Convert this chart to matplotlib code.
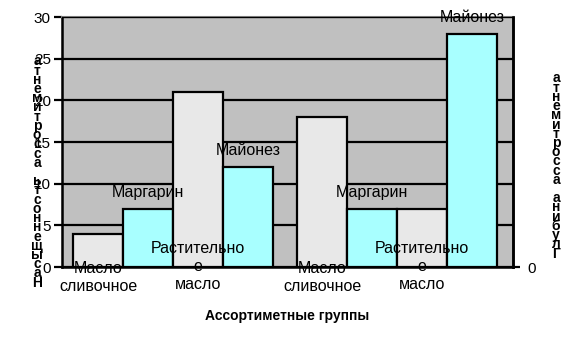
import matplotlib.pyplot as plt
import numpy as np

plt.rcParams['font.family'] = ['Liberation Sans', 'DejaVu Sans']

groups = ['Насыщенность ассортимента', 'Глубина ассортимента']
products = ['Масло\nсливочное', 'Маргарин', 'Растительно\nе\nмасло', 'Майонез']
values1 = [4, 7, 21, 12]
values2 = [18, 7, 7, 28]
colors = ['#e8e8e8', '#a8ffff', '#e8e8e8', '#a8ffff']
yticks = [0, 5, 10, 15, 20, 25, 30]

fig = plt.figure(figsize=(5.7, 3.62), dpi=100)
ax = fig.add_axes([0.1088, 0.2624, 0.7912, 0.6906])
ax.set_facecolor('#c0c0c0')

x1 = np.arange(4) + 0.72
x2 = np.arange(4) + 5.2
for xs, vals in [(x1, values1), (x2, values2)]:
    ax.bar(xs, vals, width=1.0, color=colors, edgecolor='black', linewidth=1.6, zorder=3)
    for i, (x, v) in enumerate(zip(xs, vals)):
        if i in (1, 3):
            ax.annotate(products[i], (x, v), xytext=(0, 12), textcoords='offset points',
                        ha='center', va='center', fontsize=11.5, zorder=5)
        elif i == 0:
            ax.annotate(products[i], (x, 0), xytext=(0, -7.5), textcoords='offset points',
                        ha='center', va='center', fontsize=11.5, linespacing=1.3, zorder=5)
        else:
            ax.annotate(products[i], (x, 0), xytext=(0, 0.5), textcoords='offset points',
                        ha='center', va='center', fontsize=11.5, linespacing=1.25, zorder=5)

ax.set_xlim(0, 9.02)
ax.set_ylim(0, 30)
ax.set_yticks(yticks)
ax.set_xticks([])
ax.yaxis.grid(True, color='black', linewidth=1.6, zorder=1)
ax.set_axisbelow(True)
ax.tick_params(axis='y', direction='out', length=6, width=1.6, labelsize=11, colors='black', pad=2)
for s in ['left', 'bottom', 'right']:
    ax.spines[s].set_linewidth(1.8)
    ax.spines[s].set_color('black')
ax.spines['top'].set_color('#808080')
ax.spines['top'].set_linewidth(1.5)

ax2 = ax.twinx()
ax2.set_ylim(0, 30)
ax2.set_yticks([0])
ax2.tick_params(axis='y', direction='out', length=5, width=1.6, labelsize=11, pad=5)
ax2.spines['right'].set_linewidth(1.8)

ax.set_xlabel('Ассортиметные группы', fontsize=10, fontweight='bold', labelpad=30)

# вертикальные подписи осей
fig.text(37 / 570, 1 - 172 / 362, '\n'.join(groups[0][::-1]), ha='center', va='center',
         fontsize=10, fontweight='bold', linespacing=0.565)
fig.text(556 / 570, 1 - 166 / 362, '\n'.join(groups[1][::-1]), ha='center', va='center',
         fontsize=10, fontweight='bold', linespacing=0.565)

fig.savefig('out.png', dpi=100)
